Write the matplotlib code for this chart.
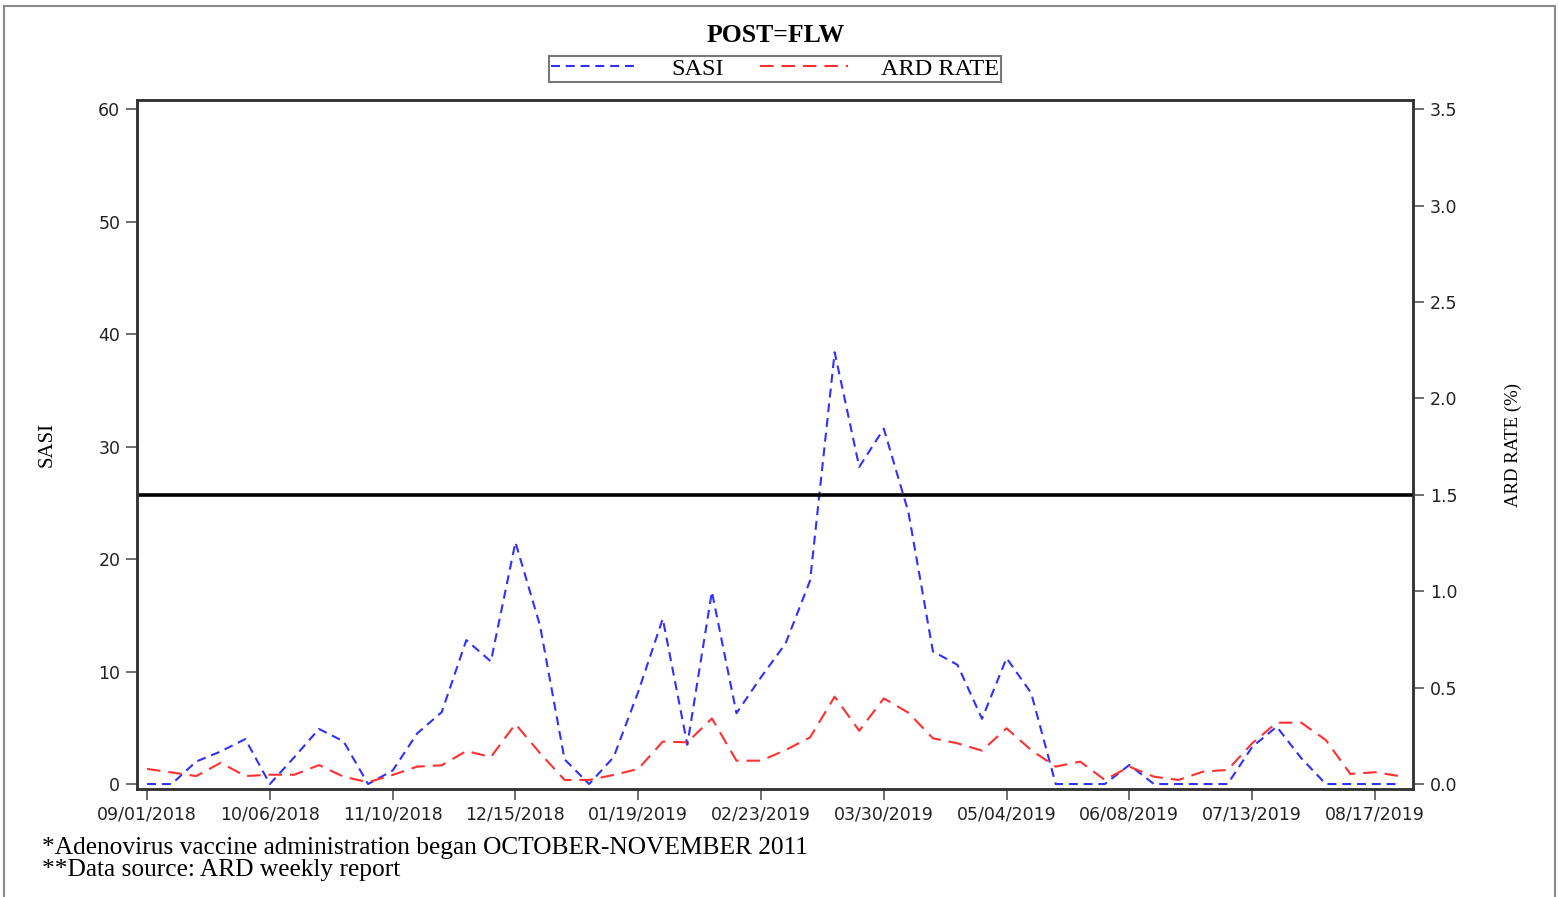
import matplotlib
matplotlib.use("Agg")
from matplotlib import pyplot as plt
from matplotlib.patches import Rectangle
import numpy as np

# weekly values, 09/01/2018 .. 08/24/2019
SASI = [0, 0, 2.0, 2.9, 4.0, 0, 2.4, 4.9, 3.8, 0,
        1.2, 4.5, 6.4, 12.8, 10.9, 21.5, 14.1, 2.2, 0, 2.4,
        8.2, 14.7, 3.5, 17.1, 6.3, 9.5, 12.5, 18.1, 38.4, 28.2,
        31.6, 24.2, 11.8, 10.6, 5.8, 11.2, 8.1, 0, 0, 0,
        1.7, 0, 0, 0, 0, 3.3, 5.1, 2.3, 0, 0,
        0, 0]
ARD_RATE = [0.078, 0.06, 0.041, 0.11, 0.041, 0.048, 0.048, 0.098, 0.038, 0.009,
            0.047, 0.09, 0.097, 0.171, 0.14, 0.311, 0.16, 0.021, 0.021, 0.047,
            0.078, 0.22, 0.216, 0.34, 0.121, 0.121, 0.176, 0.242, 0.453, 0.276,
            0.444, 0.37, 0.237, 0.211, 0.173, 0.289, 0.176, 0.09, 0.116, 0.021,
            0.09, 0.038, 0.021, 0.064, 0.073, 0.211, 0.318, 0.318, 0.228, 0.052,
            0.061, 0.041]
DATE_LABELS = ["09/01/2018", "10/06/2018", "11/10/2018", "12/15/2018", "01/19/2019",
               "02/23/2019", "03/30/2019", "05/04/2019", "06/08/2019", "07/13/2019",
               "08/17/2019"]
ARD_THRESHOLD = 1.5
FOOTNOTES = ["*Adenovirus vaccine administration began OCTOBER-NOVEMBER 2011",
             "**Data source: ARD weekly report"]

W, H = 1559, 897
fig = plt.figure(figsize=(W / 100, H / 100), dpi=100)

# outer gray frame
fig.patches.append(Rectangle((4 / W, -0.01), 1551 / W, 1 - 6 / H + 0.01,
                             transform=fig.transFigure, fill=False,
                             edgecolor="#8a8a8a", lw=1.5))

ax = fig.add_axes([137 / W, (H - 789) / H, (1413 - 137) / W, (789 - 100) / H])
ax2 = ax.twinx()

weeks = np.arange(len(SASI))
ax.plot(weeks, SASI, color="#3030ff", lw=1.5, dashes=(4.3, 2.8), label="SASI")
ax2.plot(weeks, ARD_RATE, color="#ff3030", lw=1.5, dashes=(6.5, 3.8), label="ARD RATE")
ax2.axhline(ARD_THRESHOLD, color="black", lw=2.6)

ax.set_xlim(-0.41, 51.55)
ax.set_ylim(-0.44, 60.83)
ax2.set_ylim(-0.026, 3.548)
ax.set_xticks(weeks[::5])
ax.set_xticklabels(DATE_LABELS)
ax.set_yticks(range(0, 61, 10))
ax2.set_yticks(np.arange(0, 3.51, 0.5))
ax2.set_yticklabels([f"{v:.1f}" for v in np.arange(0, 3.51, 0.5)])

for a in (ax, ax2):
    for s in a.spines.values():
        s.set_color("#333333")
        s.set_linewidth(1.8)
    a.tick_params(length=8, width=1.2, color="#555555", labelsize=12.5,
                  labelcolor="#222222", pad=4)

serif = "Liberation Serif"
ax.set_ylabel("SASI", family=serif, fontsize=15)
ax2.set_ylabel("ARD RATE (%)", family=serif, fontsize=13.5)
ax.yaxis.set_label_coords(-0.0627, 0.5)
ax2.yaxis.set_label_coords(1.0721, 0.5)

fig.text(776 / W, 1 - 35 / H, "POST=FLW", family=serif, fontweight="bold",
         fontsize=18.5, ha="center", va="center")

h1, l1 = ax.get_legend_handles_labels()
h2, l2 = ax2.get_legend_handles_labels()
leg = fig.legend(h1 + h2, l1 + l2, loc="center", ncol=2,
                 bbox_to_anchor=(775 / W, 1 - 69 / H), fancybox=False,
                 edgecolor="#777777", framealpha=1, handlelength=3.6,
                 columnspacing=1.5, borderpad=0.1, handletextpad=1.35,
                 prop={"family": serif, "size": 17.5})
leg.get_frame().set_linewidth(1.5)

fig.text(42 / W, 1 - 848 / H, FOOTNOTES[0], family=serif, fontsize=18.3, va="center")
fig.text(42 / W, 1 - 870 / H, FOOTNOTES[1], family=serif, fontsize=18.3, va="center")

fig.savefig("out.png", dpi=100)
